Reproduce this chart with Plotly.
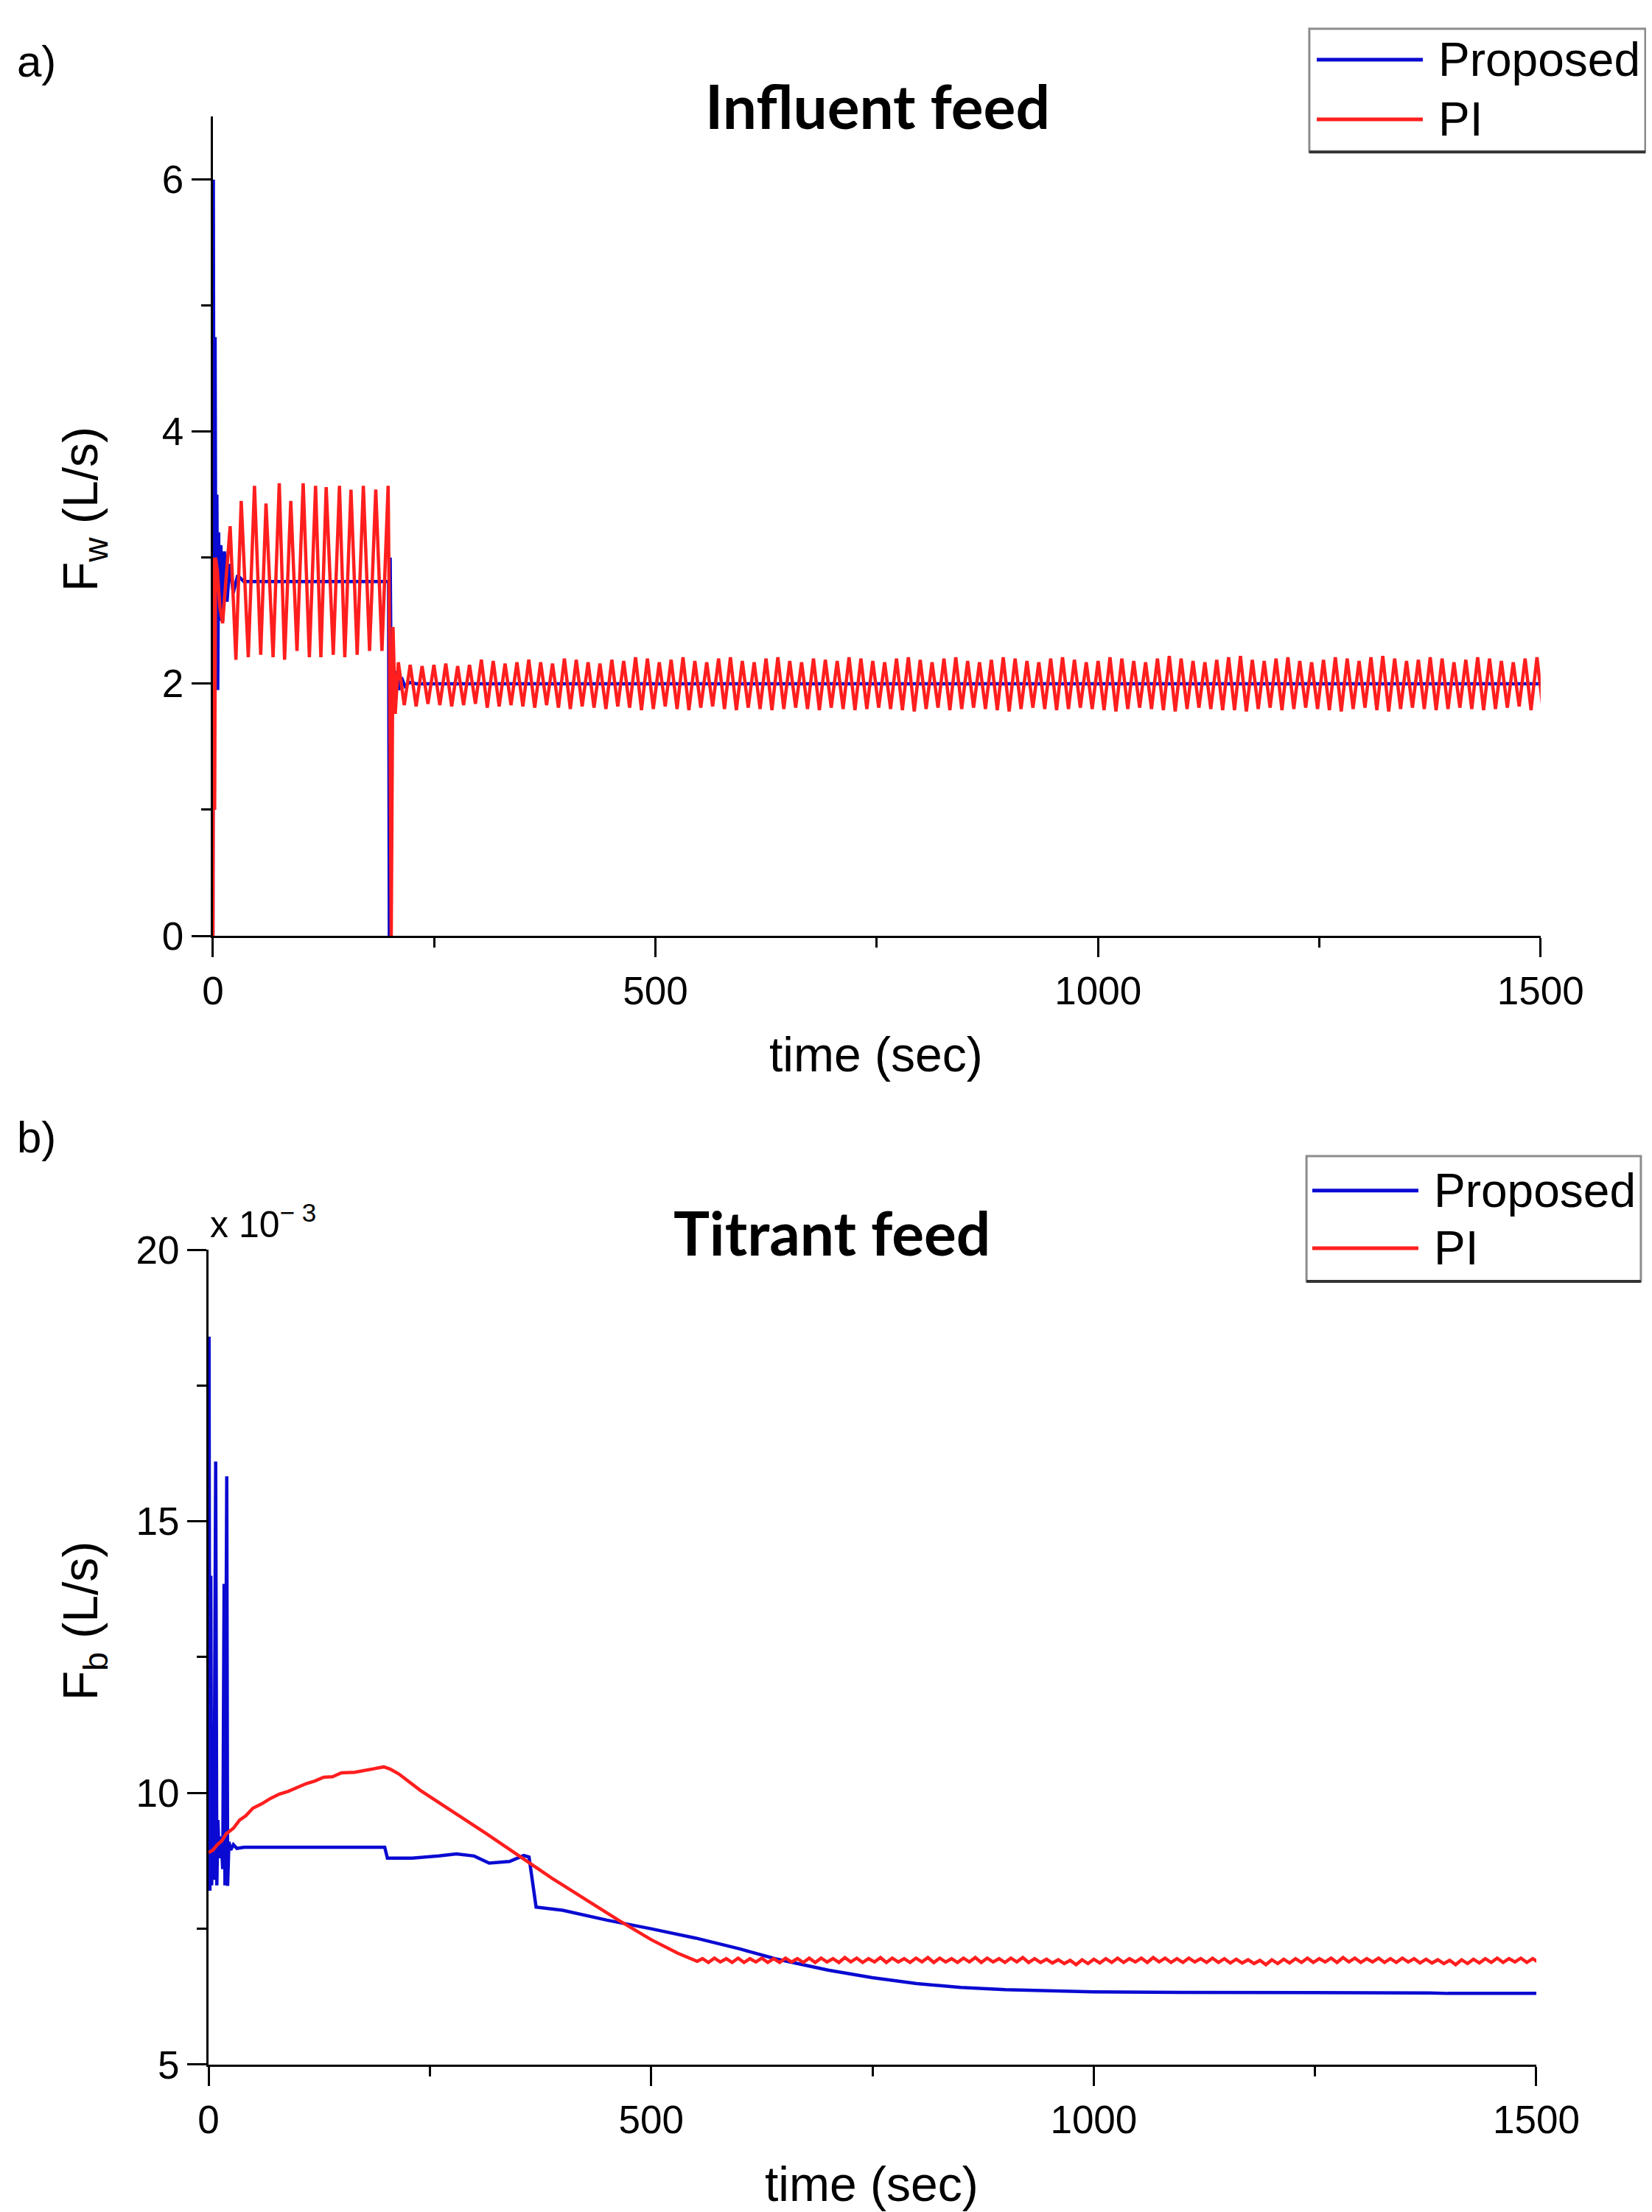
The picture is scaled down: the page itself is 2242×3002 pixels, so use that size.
import numpy as np
import plotly.graph_objects as go

# ---- a) Influent feed, F_w (L/s) ----
prop_w_t = [0, 0.5, 1.5, 2.5, 3.5, 4.5, 5.5, 6.5, 7.5, 9, 11, 13, 16, 19, 23, 28, 35, 60, 100, 150,
            198.5, 199.3, 200.3, 201.5, 203, 205, 207, 210, 213, 217, 222, 230, 300, 500, 800, 1100, 1380, 1500]
prop_w_y = [0, 6.0, 2.0, 4.75, 1.95, 3.5, 1.95, 3.2, 2.5, 3.1, 2.5, 3.05, 2.65, 2.95, 2.72, 2.86, 2.81, 2.81, 2.81, 2.81,
            2.81, 0.0, 3.0, 1.9, 2.15, 1.9, 2.1, 1.95, 2.05, 1.98, 2.01, 2.0, 2.0, 2.0, 2.0, 2.0, 2.0, 2.0]

pi_w_t = [0, 1, 2, 3, 5, 8, 11, 19.5, 26, 32, 40, 47, 54, 60, 68, 75, 81, 88, 95, 102, 109, 116, 122,
          128, 136, 143, 149, 156, 163, 170, 177, 184, 191, 198, 199.5, 201.5, 203.5, 206]
pi_w_y = [0, 3.0, 1.0, 3.0, 2.9, 2.6, 2.48, 3.25, 2.19, 3.45, 2.21, 3.57, 2.23, 3.43, 2.21, 3.59, 2.19, 3.45,
          2.26, 3.59, 2.21, 3.57, 2.21, 3.56, 2.23, 3.57, 2.21, 3.54, 2.23, 3.57, 2.26, 3.54, 2.26, 3.57,
          2.4, 0.0, 2.45, 1.76]

# PI limit cycle after the 200 s step: successive peaks/troughs, one every half period
pi_w_osc_start = 209.5
pi_w_osc_step = 6.7
pi_w_osc_y = [
    2.17, 1.83, 2.15, 1.82, 2.14, 1.84, 2.15, 1.83, 2.16, 1.82, 2.14, 1.83, 2.15, 1.84, 2.19, 1.81, 2.18, 1.82, 2.16, 1.83,
    2.17, 1.82, 2.19, 1.81, 2.17, 1.83, 2.16, 1.81, 2.20, 1.80, 2.19, 1.82, 2.17, 1.81, 2.16, 1.80, 2.19, 1.82, 2.18, 1.81,
    2.21, 1.79, 2.20, 1.80, 2.17, 1.82, 2.19, 1.80, 2.21, 1.79, 2.18, 1.81, 2.17, 1.82, 2.20, 1.80, 2.21, 1.79, 2.18, 1.81,
    2.17, 1.80, 2.20, 1.79, 2.21, 1.80, 2.18, 1.81, 2.17, 1.80, 2.20, 1.79, 2.19, 1.81, 2.18, 1.80, 2.21, 1.79, 2.20, 1.80,
    2.18, 1.81, 2.17, 1.80, 2.20, 1.79, 2.21, 1.78, 2.19, 1.80, 2.17, 1.81, 2.20, 1.79, 2.21, 1.80, 2.18, 1.81, 2.17, 1.80,
    2.19, 1.79, 2.21, 1.78, 2.20, 1.80, 2.18, 1.81, 2.17, 1.80, 2.20, 1.79, 2.21, 1.80, 2.19, 1.81, 2.17, 1.80, 2.18, 1.79,
    2.21, 1.78, 2.20, 1.80, 2.18, 1.81, 2.17, 1.80, 2.20, 1.79, 2.22, 1.78, 2.20, 1.80, 2.18, 1.81, 2.17, 1.80, 2.19, 1.79,
    2.21, 1.79, 2.22, 1.78, 2.19, 1.80, 2.18, 1.81, 2.20, 1.79, 2.21, 1.80, 2.18, 1.81, 2.17, 1.80, 2.19, 1.79, 2.21, 1.78,
    2.20, 1.80, 2.18, 1.81, 2.21, 1.79, 2.22, 1.78, 2.20, 1.80, 2.18, 1.81, 2.19, 1.80, 2.21, 1.79, 2.20, 1.80, 2.17, 1.81,
    2.19, 1.80, 2.21, 1.79, 2.20, 1.80, 2.18, 1.81, 2.17, 1.82, 2.20, 1.79, 2.21, 1.80,
]

# ---- b) Titrant feed, F_b (x 10^-3 L/s) ----
prop_b_t = [0, 0.5, 1.5, 2.5, 3.5, 5, 6, 8, 9.3, 10.5, 12, 14, 16, 17.5, 18.5, 20.5, 21.5, 23, 25, 28, 32, 40, 60,
            100, 150, 199, 202, 230, 260, 280, 300, 317, 340, 356, 362, 366, 370, 400, 450, 500, 550, 600, 640,
            700, 750, 800, 850, 900, 1000, 1100, 1200, 1380, 1400, 1500]
prop_b_y = [8.9, 18.4, 8.2, 14.0, 8.3, 11.0, 8.4, 16.1, 8.3, 9.5, 8.8, 9.2, 8.6, 13.85, 8.3, 15.83, 8.29, 9.1, 8.95,
            9.05, 8.98, 9.0, 9.0, 9.0, 9.0, 9.0, 8.8, 8.8, 8.84, 8.88, 8.84, 8.71, 8.74, 8.85, 8.82, 8.4, 7.9, 7.84,
            7.66, 7.5, 7.33, 7.13, 6.95, 6.74, 6.6, 6.49, 6.42, 6.38, 6.34, 6.33, 6.33, 6.32, 6.31, 6.31]

pi_b_t = [0, 5, 10, 15, 20, 28, 35, 42, 50, 60, 70, 80, 90, 100, 110, 120, 130, 140, 150, 165, 180, 192, 198,
          205, 215, 239, 276, 313, 351, 388, 425, 463, 500, 530, 552]
pi_b_y = [8.9, 8.95, 9.05, 9.12, 9.25, 9.35, 9.5, 9.58, 9.72, 9.8, 9.9, 9.98, 10.03, 10.1, 10.17, 10.22, 10.29,
          10.3, 10.37, 10.38, 10.42, 10.45, 10.48, 10.44, 10.35, 10.05, 9.66, 9.26, 8.84, 8.43, 8.05, 7.66, 7.3,
          7.05, 6.9]

pi_b_osc_start = 558
pi_b_osc_step = 6.7
pi_b_osc_y = [
    6.95, 6.88, 6.96, 6.89, 6.95, 6.88, 6.96, 6.88, 6.95, 6.89, 6.96, 6.88, 6.95, 6.88, 6.96, 6.89, 6.95, 6.88, 6.96, 6.88,
    6.96, 6.89, 6.95, 6.88, 6.97, 6.89, 6.96, 6.88, 6.95, 6.89, 6.97, 6.88, 6.96, 6.89, 6.95, 6.88, 6.96, 6.89, 6.97, 6.88,
    6.96, 6.89, 6.95, 6.88, 6.96, 6.89, 6.97, 6.88, 6.96, 6.89, 6.95, 6.88, 6.96, 6.89, 6.97, 6.88, 6.95, 6.88, 6.94, 6.87,
    6.93, 6.86, 6.92, 6.84, 6.93, 6.86, 6.94, 6.87, 6.95, 6.88, 6.96, 6.88, 6.95, 6.89, 6.96, 6.88, 6.97, 6.89, 6.96, 6.88,
    6.95, 6.88, 6.96, 6.89, 6.95, 6.88, 6.96, 6.88, 6.95, 6.87, 6.94, 6.87, 6.93, 6.86, 6.92, 6.84, 6.93, 6.86, 6.94, 6.87,
    6.95, 6.88, 6.96, 6.88, 6.95, 6.89, 6.96, 6.88, 6.97, 6.89, 6.96, 6.88, 6.95, 6.89, 6.96, 6.88, 6.95, 6.88, 6.96, 6.89,
    6.95, 6.87, 6.94, 6.87, 6.93, 6.86, 6.92, 6.84, 6.93, 6.86, 6.94, 6.87, 6.95, 6.88, 6.96, 6.88, 6.95, 6.89, 6.96, 6.88,
    6.95, 6.88,
]

series_names = ["Proposed", "PI"]
BLUE = "#0a0ad2"
RED = "#ff1e1e"

# assemble the PI traces (transient points followed by the sampled oscillation)
pi_w_x = pi_w_t + list(pi_w_osc_start + pi_w_osc_step * np.arange(len(pi_w_osc_y)))
pi_w_all = pi_w_y + pi_w_osc_y
pi_b_x = pi_b_t + list(pi_b_osc_start + pi_b_osc_step * np.arange(len(pi_b_osc_y)))
pi_b_all = pi_b_y + pi_b_osc_y

W, H = 2242, 3002
TICKFONT = dict(family="Liberation Sans, Arial, sans-serif", size=53, color="black")
TXT = "Liberation Sans, Arial, sans-serif"
LW = 4.5

fig = go.Figure()
fig.add_trace(go.Scatter(x=prop_w_t, y=prop_w_y, mode="lines", name=series_names[0],
                         line=dict(color=BLUE, width=LW), xaxis="x", yaxis="y"))
fig.add_trace(go.Scatter(x=pi_w_x, y=pi_w_all, mode="lines", name=series_names[1],
                         line=dict(color=RED, width=LW), xaxis="x", yaxis="y"))
fig.add_trace(go.Scatter(x=prop_b_t, y=prop_b_y, mode="lines", name=series_names[0],
                         line=dict(color=BLUE, width=LW), xaxis="x2", yaxis="y2"))
fig.add_trace(go.Scatter(x=pi_b_x, y=pi_b_all, mode="lines", name=series_names[1],
                         line=dict(color=RED, width=LW), xaxis="x2", yaxis="y2"))


def ax(**kw):
    d = dict(showline=True, linecolor="black", linewidth=3, ticks="outside", ticklen=26, tickwidth=3,
             tickcolor="black", showgrid=False, zeroline=False, tickfont=TICKFONT, automargin=False)
    d.update(kw)
    return d


def minor(vals):
    return dict(tickvals=vals, ticklen=13, tickwidth=3, ticks="outside", tickcolor="black")


fig.update_layout(
    width=W, height=H, showlegend=False,
    paper_bgcolor="white", plot_bgcolor="white",
    margin=dict(l=0, r=0, t=0, b=0),
    xaxis=ax(domain=[0.1253, 0.929], range=[0, 1500], tickvals=[0, 500, 1000, 1500],
             minor=minor([250, 750, 1250]), anchor="y"),
    yaxis=ax(domain=[0.5796, 0.95], range=[0, 6.5], tickvals=[0, 2, 4, 6],
             minor=minor([1, 3, 5]), anchor="x"),
    xaxis2=ax(domain=[0.1227, 0.9264], range=[0, 1500], tickvals=[0, 500, 1000, 1500],
              minor=minor([250, 750, 1250]), anchor="y2"),
    yaxis2=ax(domain=[0.0693, 0.4377], range=[5, 20], tickvals=[5, 10, 15, 20],
              minor=minor([7.5, 12.5, 17.5]), anchor="x2"),
)

annots = [
    dict(text="a)", x=0.006, y=0.975, xanchor="left", yanchor="middle", font=dict(family=TXT, size=60)),
    dict(text="b)", x=0.006, y=0.4885, xanchor="left", yanchor="middle", font=dict(family=TXT, size=60)),
    dict(text="<b>Influent feed</b>", x=0.5275, y=0.955, xanchor="center", yanchor="middle",
         font=dict(family="Lato, Open Sans, sans-serif", size=82)),
    dict(text="<b>Titrant feed</b>", x=0.5, y=0.4457, xanchor="center", yanchor="middle",
         font=dict(family="Lato, Open Sans, sans-serif", size=82)),
    dict(text="time (sec)", x=0.5268, y=0.526, xanchor="center", yanchor="middle", font=dict(family=TXT, size=66)),
    dict(text="time (sec)", x=0.524, y=0.0153, xanchor="center", yanchor="middle", font=dict(family=TXT, size=66)),
    dict(text="F<sub>w</sub> (L/s)", x=0.0473, y=0.7725, xanchor="center", yanchor="middle", textangle=-90,
         font=dict(family=TXT, size=66)),
    dict(text="F<sub>b</sub> (L/s)", x=0.0473, y=0.2698, xanchor="center", yanchor="middle", textangle=-90,
         font=dict(family=TXT, size=66)),
    dict(text="x 10<sup>− 3</sup>", x=0.1227, y=0.4504, xanchor="left", yanchor="middle", font=dict(family=TXT, size=50)),
]

# legend boxes drawn by hand (long line samples as in the original)
shapes = []
legends = [
    dict(box=(0.789, 0.934, 0.9924, 0.9897), ys=(0.9757, 0.9487), lx=(0.7935, 0.8577), tx=0.8662),
    dict(box=(0.7873, 0.4234, 0.9897, 0.48), ys=(0.4644, 0.4384), lx=(0.7908, 0.855), tx=0.8635),
]
for lg in legends:
    x0, y0, x1, y1 = lg["box"]
    shapes.append(dict(type="rect", xref="paper", yref="paper", x0=x0, y0=y0, x1=x1, y1=y1,
                       line=dict(color="#8c8c8c", width=3), fillcolor="white"))
    shapes.append(dict(type="line", xref="paper", yref="paper", x0=x0, y0=y0, x1=x1, y1=y0,
                       line=dict(color="#333333", width=4)))
    for name, yy, col in zip(series_names, lg["ys"], [BLUE, RED]):
        shapes.append(dict(type="line", xref="paper", yref="paper", x0=lg["lx"][0], x1=lg["lx"][1],
                           y0=yy, y1=yy, line=dict(color=col, width=5)))
        annots.append(dict(text=name, x=lg["tx"], y=yy, xanchor="left", yanchor="middle",
                           font=dict(family=TXT, size=64)))

for a in annots:
    a.update(xref="paper", yref="paper", showarrow=False)
    a["font"].setdefault("color", "black")

fig.update_layout(annotations=annots, shapes=shapes)
fig.write_html("out.html")
